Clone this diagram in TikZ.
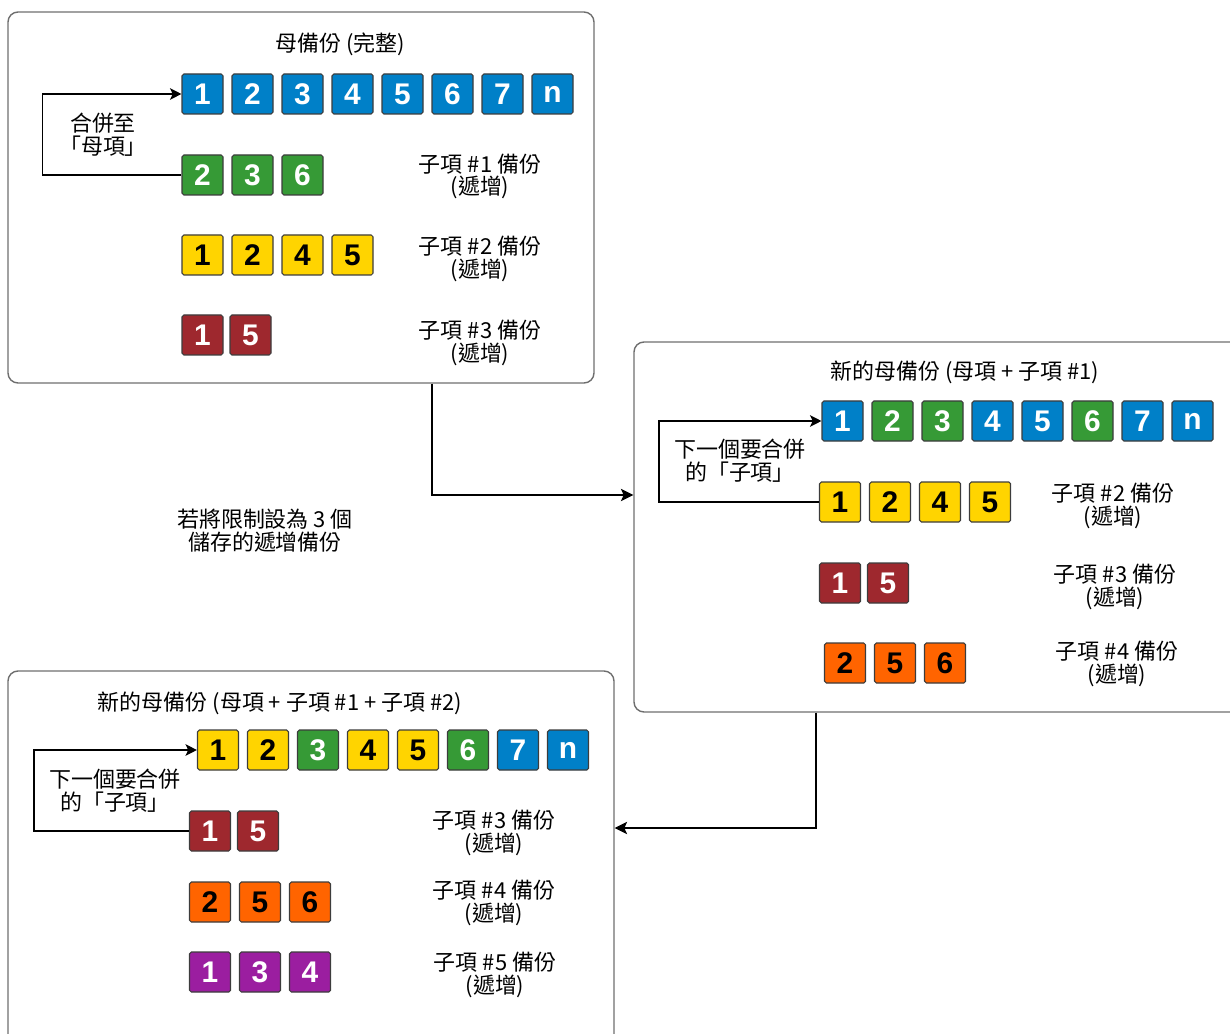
\documentclass[tikz,border=0pt]{standalone}
\usepackage{fontspec}
\setmainfont{Noto Sans CJK TC}
\newfontfamily\numfont{Liberation Sans}
\usepackage{tikz}
\usetikzlibrary{shapes.geometric, arrows, arrows.meta}
\definecolor{blkblue}{RGB}{0,128,200}
\definecolor{blkgreen}{RGB}{54,154,54}
\definecolor{blkyellow}{RGB}{255,212,0}
\definecolor{blkred}{RGB}{158,40,46}
\definecolor{blkorange}{RGB}{255,100,0}
\definecolor{blkpurple}{RGB}{155,30,160}
\definecolor{blkedge}{RGB}{60,60,60}
\definecolor{panelgray}{RGB}{110,110,110}
\tikzstyle{panel} = [rectangle, rounded corners=0.2cm, draw=panelgray, line width=0.8pt]
\tikzstyle{blk} = [rectangle, rounded corners=1pt, minimum width=0.82cm, minimum height=0.8cm, inner sep=0pt, draw=blkedge, line width=0.6pt, font=\numfont\bfseries\fontsize{17}{17}\selectfont]
\tikzstyle{full} = [blk, fill=blkblue, text=white]
\tikzstyle{incr1} = [blk, fill=blkgreen, text=white]
\tikzstyle{incr2} = [blk, fill=blkyellow, text=black]
\tikzstyle{incr3} = [blk, fill=blkred, text=white]
\tikzstyle{incr4} = [blk, fill=blkorange, text=black]
\tikzstyle{incr5} = [blk, fill=blkpurple, text=white]
\tikzstyle{caption} = [text centered, align=center, inner sep=0pt, font=\fontsize{12.5}{13}\selectfont]
\tikzstyle{arrow} = [line width=0.8pt,->,>={Stealth[length=6.5pt, width=6.5pt, inset=1.5pt]}]
\tikzstyle{link} = [line width=1.2pt,->,>={Stealth[length=7pt, width=7pt, inset=1.5pt]}]

\begin{document}
\begin{tikzpicture}[node distance=1cm]
        \useasboundingbox (0,0) rectangle (24.6,-20.68);
        % panels
        \node (full_bk) [panel, minimum width=11.72cm, minimum height=7.42cm] at (6.02,-3.95) {};
        \node (merge1_bk) [panel, minimum width=12.22cm, minimum height=7.4cm] at (18.79,-10.54) {};
        \node (merge2_bk) [panel, minimum width=12.12cm, minimum height=7.58cm] at (6.22,-17.21) {};
        \draw [link] ([xshift=2.62cm]full_bk.south) |- ([yshift=0.64cm]merge1_bk.west);
        \draw [link] ([xshift=-2.47cm]merge1_bk.south) |- ([yshift=0.65cm]merge2_bk.east);
        \node (limit) [caption] at (5.3,-10.62) {若將限制設為 3 個\\儲存的遞增備份};

        % full backup
        \node (full_title) [caption] at (6.8,-0.88) {母備份 (完整)};
        \node (f1) [full] at (4.05,-1.88) {1};
        \node (f2) [full, right of=f1] {2};
        \node (f3) [full, right of=f2] {3};
        \node (f4) [full, right of=f3] {4};
        \node (f5) [full, right of=f4] {5};
        \node (f6) [full, right of=f5] {6};
        \node (f7) [full, right of=f6] {7};
        \node (f8) [full, right of=f7] {n};
        \node (a1) [incr1, below of=f1, yshift=-0.62cm] {2};
        \node (a2) [incr1, right of=a1] {3};
        \node (a3) [incr1, right of=a2] {6};
        \node (b1) [incr2, below of=a1, yshift=-0.6cm] {1};
        \node (b2) [incr2, right of=b1] {2};
        \node (b3) [incr2, right of=b2] {4};
        \node (b4) [incr2, right of=b3] {5};
        \node (c1) [incr3, below of=b1, yshift=-0.6cm] {1};
        \node (c2) [incr3, right of=c1, xshift=-0.04cm] {5};
        \node (a_txt) [caption] at (9.6,-3.53) {子項 \#1 備份\\(遞增)};
        \node (b_txt) [caption] at (9.6,-5.18) {子項 \#2 備份\\(遞增)};
        \node (c_txt) [caption] at (9.6,-6.86) {子項 \#3 備份\\(遞增)};
        \draw [arrow] (a1.west) -- ++(-2.78,0) |- (f1.west);
        \node (merge_txt) [caption] at (2.06,-2.7) {合併至\\「母項」};

        % new full backup (full + #1)
        \node (m1_title) [caption] at (19.3,-7.44) {新的母備份 (母項 + 子項 \#1)};
        \node (g1) [full] at (16.85,-8.42) {1};
        \node (g2) [incr1, right of=g1] {2};
        \node (g3) [incr1, right of=g2] {3};
        \node (g4) [full, right of=g3] {4};
        \node (g5) [full, right of=g4] {5};
        \node (g6) [incr1, right of=g5] {6};
        \node (g7) [full, right of=g6] {7};
        \node (g8) [full, right of=g7] {n};
        \node (h1) [incr2, below of=g1, xshift=-0.05cm, yshift=-0.62cm] {1};
        \node (h2) [incr2, right of=h1] {2};
        \node (h3) [incr2, right of=h2] {4};
        \node (h4) [incr2, right of=h3] {5};
        \node (i1) [incr3, below of=h1, yshift=-0.62cm] {1};
        \node (i2) [incr3, right of=i1, xshift=-0.04cm] {5};
        \node (j1) [incr4, below of=i1, xshift=0.1cm, yshift=-0.6cm] {2};
        \node (j2) [incr4, right of=j1] {5};
        \node (j3) [incr4, right of=j2] {6};
        \node (h_txt) [caption] at (22.26,-10.12) {子項 \#2 備份\\(遞增)};
        \node (i_txt) [caption] at (22.3,-11.74) {子項 \#3 備份\\(遞增)};
        \node (j_txt) [caption] at (22.34,-13.28) {子項 \#4 備份\\(遞增)};
        \draw [arrow] (h1.west) -- ++(-3.2,0) |- (g1.west);
        \node (next1_txt) [caption] at (14.8,-9.22) {下一個要合併\\的「子項」};

        % new full backup (full + #1 + #2)
        \node (m2_title) [caption] at (5.6,-14.06) {新的母備份 (母項 + 子項 \#1 + 子項 \#2)};
        \node (k1) [incr2] at (4.36,-15.0) {1};
        \node (k2) [incr2, right of=k1] {2};
        \node (k3) [incr1, right of=k2] {3};
        \node (k4) [incr2, right of=k3] {4};
        \node (k5) [incr2, right of=k4] {5};
        \node (k6) [incr1, right of=k5] {6};
        \node (k7) [full, right of=k6] {7};
        \node (k8) [full, right of=k7] {n};
        \node (l1) [incr3, below of=k1, xshift=-0.16cm, yshift=-0.62cm] {1};
        \node (l2) [incr3, right of=l1, xshift=-0.04cm] {5};
        \node (o1) [incr4, below of=l1, yshift=-0.42cm] {2};
        \node (o2) [incr4, right of=o1] {5};
        \node (o3) [incr4, right of=o2] {6};
        \node (q1) [incr5, below of=o1, yshift=-0.4cm] {1};
        \node (q2) [incr5, right of=q1] {3};
        \node (q3) [incr5, right of=q2] {4};
        \node (l_txt) [caption] at (9.88,-16.66) {子項 \#3 備份\\(遞增)};
        \node (o_txt) [caption] at (9.88,-18.06) {子項 \#4 備份\\(遞增)};
        \node (q_txt) [caption] at (9.9,-19.5) {子項 \#5 備份\\(遞增)};
        \draw [arrow] (l1.west) -- ++(-3.1,0) |- (k1.west);
        \node (next2_txt) [caption] at (2.3,-15.82) {下一個要合併\\的「子項」};
      \end{tikzpicture}
\end{document}
